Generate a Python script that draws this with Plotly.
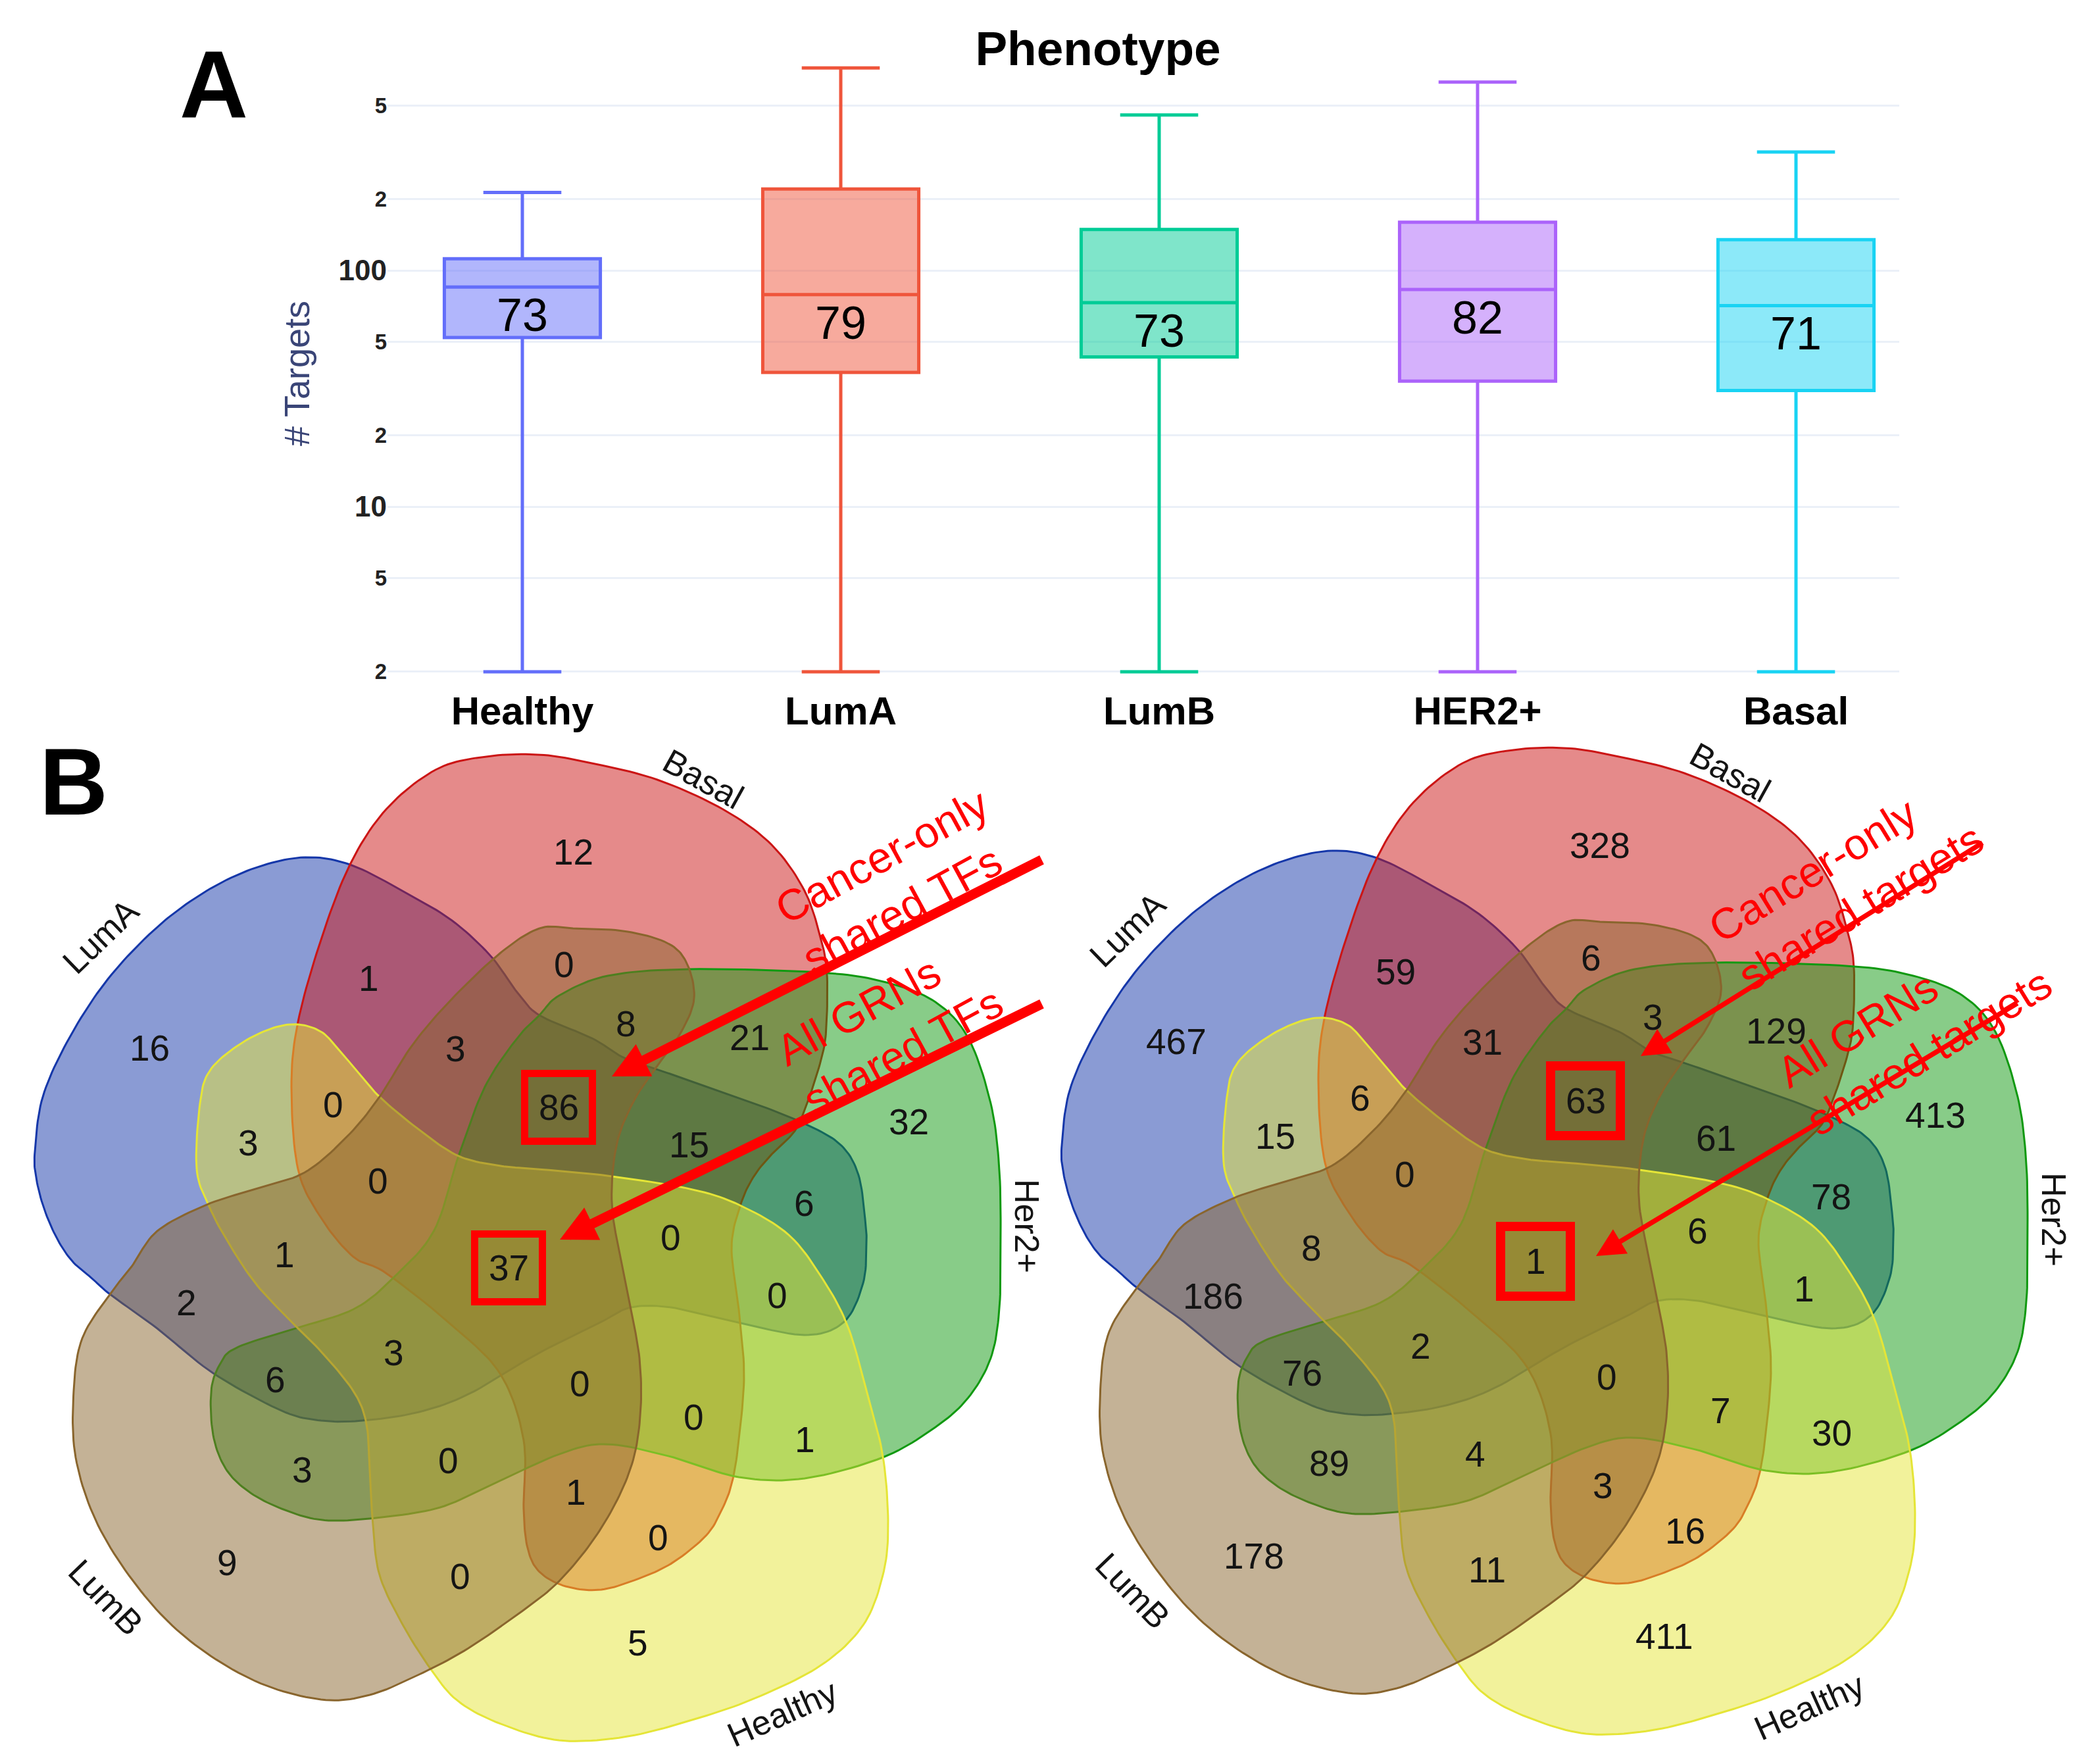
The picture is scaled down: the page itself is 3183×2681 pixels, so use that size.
import numpy as np
import plotly.graph_objects as go

W, H = 3183, 2681
FONT = "Liberation Sans, Arial, Helvetica, sans-serif"

# ---------------- Panel A: box plot data ----------------
PHENOTYPES = ["Healthy", "LumA", "LumB", "HER2+", "Basal"]
BOX_LOWER = [2, 2, 2, 2, 2]
BOX_Q1 = [52, 37, 43, 34, 31]
BOX_MEDIAN = [85, 79, 73, 83, 71]
BOX_Q3 = [112, 221, 149, 160, 135]
BOX_UPPER = [214, 720, 455, 627, 317]
BOX_LABELS = ["73", "79", "73", "82", "71"]
BOX_COLORS = ["#636EFA", "#EF553B", "#00CC96", "#AB63FA", "#19D3F3"]

# ---------------- Panel B: Venn data ----------------
SETS = ["LumA", "Basal", "Her2+", "Healthy", "LumB"]
TF_COUNTS = [12, 1, 16, 0, 8, 21, 3, 86, 0, 3, 15, 32, 0, 6, 1, 37,
             0, 0, 2, 3, 6, 0, 0, 3, 0, 1, 1, 9, 0, 0, 5]
TARGET_COUNTS = [328, 59, 467, 6, 3, 129, 31, 63, 6, 15, 61, 413, 0, 78, 8, 1,
                 6, 1, 186, 2, 76, 0, 7, 89, 4, 30, 3, 178, 16, 11, 411]
CANCER_ONLY_REGION = 7
ALL_REGION = 15

# ---------------- layout geometry (pixels, relative to each diagram centre, y down) ----------------
REGION_POS = [(94, -622), (-217, -430), (-550, -324), (80, -451), (174, -361),
              (362, -340), (-85, -323), (72, -234), (-271, -238), (-400, -180),
              (270, -177), (604, -212), (-203, -122), (445, -88), (-345, -10),
              (-4, 10), (242, -36), (404, 52), (-494, 63), (-179, 139),
              (-359, 180), (104, 186), (277, 237), (-318, 317), (-96, 303),
              (446, 271), (98, 351), (-432, 458), (223, 420), (-78, 479),
              (192, 580)]
SET_LABEL_POS = {"LumA": (-624, -494), "Basal": (292, -733), "Her2+": (784, -54),
                 "Healthy": (412, 687), "LumB": (-616, 511)}
SET_LABEL_ANGLE = {"LumA": -44, "Basal": 29, "Her2+": 90, "Healthy": -24, "LumB": 46}
SET_RGB = {"LumA": (21, 55, 169), "Basal": (203, 21, 21), "Her2+": (17, 153, 17),
           "Healthy": (229, 229, 55), "LumB": (137, 101, 45)}
DRAW_ORDER = ["LumA", "Basal", "Her2+", "Healthy", "LumB"]

SET_OUTLINES = {
    "Her2+": [(43, -374), (73, -404), (147, -434), (272, -444), (471, -439), (570, -424),
              (645, -394), (695, -339), (729, -240), (742, -140), (744, -27), (742, 73),
              (729, 147), (695, 207), (645, 252), (565, 298), (446, 330), (346, 328),
              (247, 298), (147, 278), (73, 293), (-41, 345), (-115, 376), (-215, 391),
              (-289, 393), (-349, 376), (-399, 350), (-434, 315), (-453, 264),
              (-456, 197), (-443, 157), (-419, 132), (-339, 105), (-240, 73),
              (-177, 23), (-117, -47), (-80, -160), (-40, -265), (9, -339)],
    "LumA": [(-314, -614), (-245, -603), (-165, -563), (-90, -518), (-31, -464), (9, -409),
             (43, -374), (123, -339), (172, -309), (227, -290), (298, -265), (375, -238),
             (451, -207), (502, -176), (528, -131), (538, -64), (540, -27), (535, 33),
             (506, 92), (446, 112), (341, 92), (243, 70), (182, 70), (141, 90), (39, 141),
             (-63, 201), (-140, 229), (-225, 242), (-289, 242), (-349, 227), (-453, 170),
             (-538, 102), (-610, 50), (-637, 26), (-667, 0), (-690, -34), (-710, -80),
             (-722, -127), (-724, -167), (-712, -250), (-672, -339), (-613, -429),
             (-538, -508), (-463, -563), (-389, -598)],
    "Basal": [(-245, -603), (-190, -687), (-115, -747), (-40, -767), (43, -770), (123, -757),
              (222, -732), (322, -687), (396, -633), (446, -563), (471, -489), (480, -437),
              (479, -355), (472, -310), (451, -243), (431, -198), (400, -167), (370, -131),
              (349, -87), (335, -22), (346, 73), (354, 172), (346, 272), (336, 335),
              (321, 376), (297, 416), (247, 457), (197, 481), (137, 499), (83, 494),
              (43, 472), (25, 436), (19, 376), (19, 272), (-16, 172), (-90, 97),
              (-190, 18), (-240, -7), (-289, -66), (-324, -140), (-334, -265),
              (-324, -364), (-289, -489)],
    "Healthy": [(-478, -140), (-473, -240), (-458, -290), (-414, -329), (-364, -354),
                (-324, -360), (-289, -349), (-264, -324), (-235, -290), (-200, -250),
                (-140, -200), (-80, -160), (-16, -145), (43, -140), (147, -130),
                (272, -110), (346, -86), (421, -41), (471, 23), (511, 97), (540, 197),
                (565, 296), (573, 401), (565, 477), (535, 553), (471, 614), (371, 664),
                (272, 698), (172, 723), (73, 728), (-16, 703), (-80, 669), (-120, 623),
                (-165, 552), (-200, 477), (-210, 401), (-215, 321), (-220, 247),
                (-240, 197), (-289, 137), (-339, 87), (-389, 33), (-429, -27),
                (-458, -81)],
    "LumB": [(43, -506), (94, -506), (171, -502), (237, -484), (267, -453), (278, -399),
             (257, -346), (222, -297), (186, -243), (160, -176), (153, -87), (167, -2),
             (182, 73), (195, 147), (197, 222), (187, 296), (162, 361), (123, 426),
             (73, 486), (23, 527), (-65, 588), (-140, 628), (-215, 659), (-289, 666),
             (-389, 638), (-488, 577), (-563, 501), (-628, 401), (-662, 298),
             (-665, 197), (-652, 117), (-610, 50), (-577, 8), (-538, -46), (-463, -86),
             (-389, -110), (-314, -135), (-249, -190), (-200, -250), (-150, -329),
             (-90, -399), (-16, -469)],
}


def smooth_closed(pts, n=12):
    P = np.asarray(pts, float)
    N = len(P)
    t = np.linspace(0, 1, n, endpoint=False)[:, None]
    out = []
    for i in range(N):
        p0, p1, p2, p3 = P[i - 1], P[i], P[(i + 1) % N], P[(i + 2) % N]
        seg = 0.5 * ((2 * p1) + (-p0 + p2) * t + (2 * p0 - 5 * p1 + 4 * p2 - p3) * t ** 2
                     + (-p0 + 3 * p1 - 3 * p2 + p3) * t ** 3)
        out.append(seg)
    out = np.vstack(out)
    return np.vstack([out, out[:1]])


fig = go.Figure()

# ---------------- Panel A ----------------
for name, lo, q1, med, q3, hi, col in zip(PHENOTYPES, BOX_LOWER, BOX_Q1, BOX_MEDIAN,
                                           BOX_Q3, BOX_UPPER, BOX_COLORS):
    fig.add_trace(go.Box(
        x=[name], q1=[q1], median=[med], q3=[q3], lowerfence=[lo], upperfence=[hi],
        name=name, marker_color=col, line=dict(color=col, width=5),
        width=0.49, whiskerwidth=0.5, boxpoints=False, showlegend=False,
        xaxis="x", yaxis="y", hoverinfo="skip"))

annotations = []
for name, med, lab in zip(PHENOTYPES, BOX_MEDIAN, BOX_LABELS):
    annotations.append(dict(x=name, y=np.log10(med), xref="x", yref="y", text=lab,
                            showarrow=False, yanchor="top", yshift=-2,
                            font=dict(size=70, color="black", family=FONT)))

# ---------------- Panel B ----------------
VENNS = [
    dict(ax="2", counts=TF_COUNTS, centre=(777, 1917), dom=(0, 1595),
         lw=15, head=0.73, box_w=11, box_half=51.5,
         texts=["Cancer-only<br>shared TFs", "All GRNs<br>shared TFs"],
         text_pos=[(584, -578), (575, -357)], text_angle=-28.5,
         arrows=[((808, -611), (153, -281)), ((808, -392), (74, -33))]),
    dict(ax="3", counts=TARGET_COUNTS, centre=(2338, 1907), dom=(1595, W),
         lw=7.5, head=1.15, box_w=14, box_half=53,
         texts=["Cancer-only<br>shared targets", "All GRNs<br>shared targets"],
         text_pos=[(468, -565), (572, -345)], text_angle=-31.5,
         arrows=[((677, -627), (156, -302)), ((730, -383), (88, 2))]),
]
Y_TOP, Y_BOT = 1110, H

shapes = []
layout_axes = {}
smoothed = {s: smooth_closed(SET_OUTLINES[s]) for s in SETS}
for v in VENNS:
    xa, ya = "x" + v["ax"], "y" + v["ax"]
    cx, cy = v["centre"]
    for sname in DRAW_ORDER:
        pts = smoothed[sname]
        r, g, b = SET_RGB[sname]
        fig.add_trace(go.Scatter(
            x=pts[:, 0], y=pts[:, 1], mode="lines", fill="toself",
            fillcolor=f"rgba({r},{g},{b},0.5)", line=dict(color=f"rgb({r},{g},{b})", width=3),
            xaxis=xa, yaxis=ya, showlegend=False, hoverinfo="skip"))
    for (px, py), cnt in zip(REGION_POS, v["counts"]):
        annotations.append(dict(x=px, y=py, xref=xa, yref=ya, text=str(cnt),
                                showarrow=False, font=dict(size=55, color="#141414", family=FONT)))
    for sname in SETS:
        px, py = SET_LABEL_POS[sname]
        annotations.append(dict(x=px, y=py, xref=xa, yref=ya, text=sname,
                                showarrow=False, textangle=SET_LABEL_ANGLE[sname],
                                font=dict(size=52, color="#141414", family=FONT)))
    for idx in (CANCER_ONLY_REGION, ALL_REGION):
        px, py = REGION_POS[idx]
        hb = v["box_half"]
        shapes.append(dict(type="rect", xref=xa, yref=ya, x0=px - hb, x1=px + hb,
                           y0=py - hb, y1=py + hb,
                           line=dict(color="#FF0000", width=v["box_w"]), layer="above"))
    for (sx, sy), (tx, ty) in v["arrows"]:
        annotations.append(dict(x=tx, y=ty, ax=sx, ay=sy, xref=xa, yref=ya, axref=xa, ayref=ya,
                                text="", showarrow=True, arrowhead=2, arrowsize=v["head"],
                                arrowwidth=v["lw"], arrowcolor="#FF0000", standoff=0))
    for txt, (px, py) in zip(v["texts"], v["text_pos"]):
        annotations.append(dict(x=px, y=py, xref=xa, yref=ya, text=txt, showarrow=False,
                                align="left", textangle=v["text_angle"],
                                font=dict(size=66, color="#FF0000", family=FONT)))
    d0, d1 = v["dom"]
    layout_axes["xaxis" + v["ax"]] = dict(domain=[d0 / W, d1 / W], range=[d0 - cx, d1 - cx],
                                         visible=False, fixedrange=True)
    layout_axes["yaxis" + v["ax"]] = dict(domain=[0, 1 - Y_TOP / H], range=[Y_BOT - cy, Y_TOP - cy],
                                         visible=False, fixedrange=True)

# panel letters
annotations.append(dict(x=325 / W, y=1 - 128 / H, xref="paper", yref="paper", text="<b>A</b>",
                        xanchor="center", yanchor="middle", showarrow=False,
                        font=dict(size=144, color="black", family=FONT)))
annotations.append(dict(x=112 / W, y=1 - 1188 / H, xref="paper", yref="paper", text="<b>B</b>",
                        xanchor="center", yanchor="middle", showarrow=False,
                        font=dict(size=144, color="black", family=FONT)))

# panel A axes geometry
XA0, XA1 = 589, 2887
CAT0, SPACING = 794, 484
YA_TOP, YA_BOT = 95, 1040
LOG_REF_PX, LOG_REF, PX_PER_DECADE = 411, 2.0, 359

fig.update_layout(
    width=W, height=H, template="plotly_white",
    margin=dict(l=0, r=0, t=0, b=0),
    paper_bgcolor="white", plot_bgcolor="white",
    font=dict(family=FONT),
    title=dict(text="<b>Phenotype</b>", x=1669 / W, y=1 - 73 / H, xanchor="center", yanchor="middle",
               font=dict(size=73, color="black", family=FONT)),
    xaxis=dict(domain=[XA0 / W, XA1 / W],
               range=[-(CAT0 - XA0) / SPACING, (XA1 - CAT0) / SPACING],
               showgrid=False, zeroline=False, showline=False, ticks="",
               tickfont=dict(size=60, color="black", family=FONT, weight="bold")),
    yaxis=dict(domain=[1 - YA_BOT / H, 1 - YA_TOP / H], type="log",
               range=[LOG_REF - (YA_BOT - LOG_REF_PX) / PX_PER_DECADE,
                      LOG_REF + (LOG_REF_PX - YA_TOP) / PX_PER_DECADE],
               dtick="D2", showgrid=True, gridcolor="#EBF0F8", gridwidth=3,
               zeroline=False, showline=False, ticks="",
               tickfont=dict(size=44, color="#222222", family=FONT, weight="bold"),
               title=dict(text="# Targets", standoff=26,
                          font=dict(size=54, color="#3a4577", family=FONT))),
    annotations=annotations, shapes=shapes, showlegend=False,
    **layout_axes,
)

fig.write_html("out.html", config={"displayModeBar": False},
               post_script="document.body.style.margin='0';")
